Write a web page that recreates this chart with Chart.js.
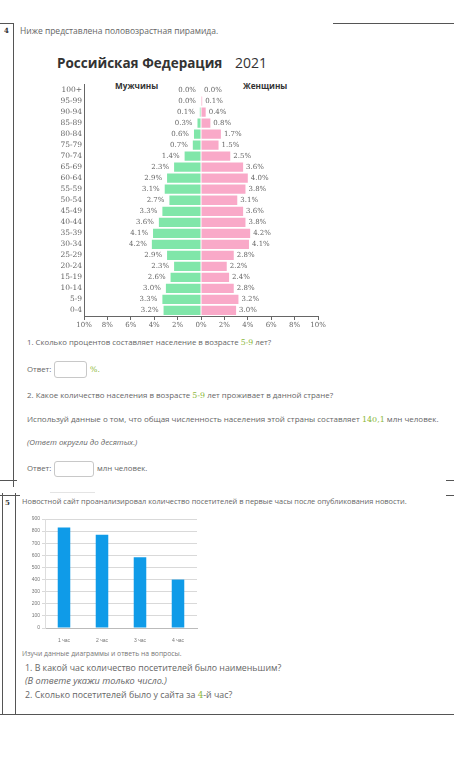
<!DOCTYPE html>
<html lang="ru">
<head>
<meta charset="utf-8">
<title>Половозрастная пирамида</title>
<script src="https://cdn.jsdelivr.net/npm/chart.js@4.4.1/dist/chart.umd.min.js"></script>
<style>
  html, body { margin: 0; padding: 0; background: #fff; }
  body { width: 454px; height: 762px; position: relative; overflow: hidden; font-family: "Open Sans", sans-serif; color: #666; }
  .t { position: absolute; white-space: nowrap; line-height: 1; }
  .g { color: #8cb83a; font-family: "DejaVu Serif", serif; }
  .ln { position: absolute; background: #555; }
  .box { position: absolute; border: 1px solid #c8c8c8; border-radius: 3px; background: #fff; box-sizing: border-box; }
  #pyramidWrap { position: absolute; left: 50px; top: 78px; width: 280px; height: 258px; }
  #visitsWrap { position: absolute; left: 20px; top: 512px; width: 185px; height: 130px; }
</style>
</head>
<body>

<!-- рамки заданий -->
<div class="ln" style="left:0;top:23px;width:14px;height:1px"></div>
<div class="ln" style="left:333px;top:23px;width:121px;height:1px"></div>
<div class="ln" style="left:13px;top:23px;width:1px;height:464px"></div>
<div class="ln" style="left:0;top:480px;width:17px;height:1px"></div>
<div class="ln" style="left:446px;top:480px;width:8px;height:1px"></div>
<div class="ln" style="left:0;top:495px;width:20px;height:1px"></div>
<div class="ln" style="left:446px;top:495px;width:8px;height:1px"></div>
<div class="ln" style="left:2px;top:493px;width:1px;height:221px"></div>
<div class="ln" style="left:15px;top:493px;width:1px;height:221px"></div>
<div class="ln" style="left:0;top:714px;width:454px;height:1px"></div>
<div class="ln" style="left:50px;top:492px;width:45px;height:1px;background:#e4e4e4"></div>

<!-- задание 4 -->
<div class="t" style="left:4px;top:26px;font:bold 7px 'DejaVu Serif',serif;color:#333">4</div>
<div class="t" style="left:20px;top:27px;font-size:8.5px">Ниже представлена половозрастная пирамида.</div>
<div class="t" style="left:57px;top:57px;font-size:13.5px;font-weight:bold;color:#333">Российская Федерация</div>
<div class="t" style="left:235px;top:56px;font-size:14px;color:#333">2021</div>
<div class="t" style="left:115px;top:82px;font-size:8.2px;font-weight:bold;color:#333">Мужчины</div>
<div class="t" style="left:243px;top:82px;font-size:8.2px;font-weight:bold;color:#333">Женщины</div>

<div id="pyramidWrap"><canvas id="pyramidChart"></canvas></div>

<div class="t" style="left:27px;top:339px;font-size:7.8px">1. Сколько процентов составляет население в возрасте <span class="g">5-9</span> лет?</div>
<div class="t" style="left:27px;top:366px;font-size:7.8px">Ответ:</div>
<div class="box" style="left:54px;top:361px;width:33px;height:17px"></div>
<div class="t g" style="left:90px;top:366px;font-size:7.8px">%.</div>
<div class="t" style="left:27px;top:392px;font-size:7.9px">2. Какое количество населения в возрасте <span class="g">5-9</span> лет проживает в данной стране?</div>
<div class="t" style="left:27px;top:415px;font-size:8px">Используй данные о том, что общая численность населения этой страны составляет <span class="g">140,1</span> млн человек.</div>
<div class="t" style="left:27px;top:439px;font-size:7.9px;font-style:italic">(Ответ округли до десятых.)</div>
<div class="t" style="left:27px;top:465px;font-size:7.8px">Ответ:</div>
<div class="box" style="left:54px;top:461px;width:40px;height:16px"></div>
<div class="t" style="left:97px;top:465px;font-size:7.8px">млн человек.</div>

<!-- задание 5 -->
<div class="t" style="left:5px;top:498px;font:bold 7px 'DejaVu Serif',serif;color:#333">5</div>
<div class="t" style="left:22px;top:498px;font-size:7.4px">Новостной сайт проанализировал количество посетителей в первые часы после опубликования новости.</div>

<div id="visitsWrap"><canvas id="visitsChart"></canvas></div>

<div class="t" style="left:22px;top:651px;font-size:6.8px;color:#777">Изучи данные диаграммы и ответь на вопросы.</div>
<div class="t" style="left:25px;top:664px;font-size:8.8px">1. В какой час количество посетителей было наименьшим?</div>
<div class="t" style="left:25px;top:676px;font-size:9.2px;font-style:italic">(В ответе укажи только число.)</div>
<div class="t" style="left:25px;top:691px;font-size:8.8px">2. Сколько посетителей было у сайта за <span class="g">4</span>-й час?</div>

<script>
// --- данные пирамиды (%, сверху вниз) ---
const ageGroups = ['100+', '95-99', '90-94', '85-89', '80-84', '75-79', '70-74', '65-69', '60-64', '55-59',
    '50-54', '45-49', '40-44', '35-39', '30-34', '25-29', '20-24', '15-19', '10-14', '5-9', '0-4'];
const malePercent = [0.0, 0.0, 0.1, 0.3, 0.6, 0.7, 1.4, 2.3, 2.9, 3.1, 2.7, 3.3, 3.6, 4.1, 4.2, 2.9, 2.3, 2.6, 3.0, 3.3, 3.2];
const femalePercent = [0.0, 0.1, 0.4, 0.8, 1.7, 1.5, 2.5, 3.6, 4.0, 3.8, 3.1, 3.6, 3.8, 4.2, 4.1, 2.8, 2.2, 2.4, 2.8, 3.2, 3.0];
const pyramidTicks = [-10, -8, -6, -4, -2, 0, 2, 4, 6, 8, 10];

// --- данные посещаемости сайта ---
const hourLabels = ['1 час', '2 час', '3 час', '4 час'];
const visitors = [830, 770, 585, 400];

const serif = "'DejaVu Serif', serif";

// подписи процентов у концов полос
const valueLabels = {
    id: 'valueLabels',
    afterDatasetsDraw(chart) {
        const ctx = chart.ctx;
        ctx.save();
        ctx.font = '7px ' + serif;
        ctx.fillStyle = '#666';
        ctx.textBaseline = 'middle';
        chart.data.datasets.forEach((ds, di) => {
            const meta = chart.getDatasetMeta(di);
            meta.data.forEach((bar, i) => {
                const txt = Math.abs(ds.data[i]).toFixed(1) + '%';
                if (di === 0) {
                    ctx.textAlign = 'right';
                    ctx.fillText(txt, bar.x - 5, bar.y);
                } else {
                    ctx.textAlign = 'left';
                    ctx.fillText(txt, bar.x + 3, bar.y);
                }
            });
        });
        ctx.restore();
    }
};

document.addEventListener('DOMContentLoaded', () => {
    // 1. пирамида
    new Chart(document.getElementById('pyramidChart'), {
        type: 'bar',
        data: {
            labels: ageGroups,
            datasets: [
                { label: 'Мужчины', data: malePercent.map(v => -v), backgroundColor: '#80e6a9', barPercentage: 0.84, categoryPercentage: 1 },
                { label: 'Женщины', data: femalePercent, backgroundColor: '#f9a9c8', barPercentage: 0.84, categoryPercentage: 1 }
            ]
        },
        options: {
            indexAxis: 'y',
            responsive: true, maintainAspectRatio: false, animation: false,
            layout: { padding: { top: 6, right: 12, left: 0, bottom: 0 } },
            plugins: { legend: { display: false }, tooltip: { enabled: false } },
            scales: {
                x: {
                    stacked: true, min: -10, max: 10,
                    afterBuildTicks: s => { s.ticks = pyramidTicks.map(v => ({ value: v })); },
                    afterFit: s => { s.height = 20; },
                    ticks: { callback: v => Math.abs(v) + '%', font: { family: serif, size: 7 }, color: '#666', padding: 1, maxRotation: 0 },
                    grid: { drawOnChartArea: false, tickLength: 4, color: '#666' },
                    border: { color: '#666' }
                },
                y: {
                    stacked: true,
                    afterFit: s => { s.width = 34; },
                    ticks: { font: { family: serif, size: 7.5 }, color: '#666', padding: 2, autoSkip: false },
                    grid: { display: false, drawTicks: false },
                    border: { color: '#666' }
                }
            }
        },
        plugins: [valueLabels]
    });

    // 2. посетители по часам
    new Chart(document.getElementById('visitsChart'), {
        type: 'bar',
        data: {
            labels: hourLabels,
            datasets: [{ data: visitors, backgroundColor: '#0f9be8', barPercentage: 0.33, categoryPercentage: 1 }]
        },
        options: {
            responsive: true, maintainAspectRatio: false, animation: false,
            layout: { padding: { top: 7, right: 8 } },
            plugins: { legend: { display: false }, tooltip: { enabled: false } },
            scales: {
                x: {
                    afterFit: s => { s.height = 14; },
                    ticks: { font: { size: 5 }, color: '#777', padding: 2 },
                    grid: { display: false },
                    border: { color: '#bbb' }
                },
                y: {
                    min: 0, max: 900,
                    afterFit: s => { s.width = 25; },
                    ticks: { stepSize: 100, font: { size: 5 }, color: '#777', padding: 2 },
                    grid: { color: '#d9d9d9', tickLength: 3 },
                    border: { color: '#ddd' }
                }
            }
        }
    });
});
</script>
</body>
</html>
